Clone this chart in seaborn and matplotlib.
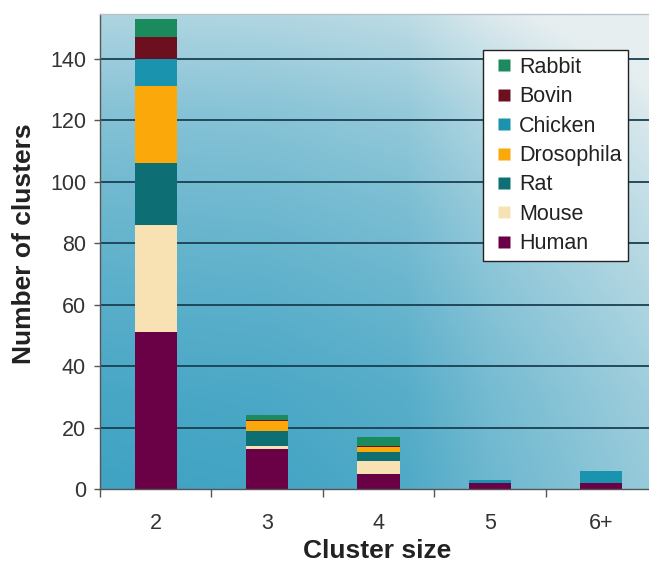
import numpy as np
import matplotlib
matplotlib.use("Agg")
import matplotlib.pyplot as plt
from matplotlib.lines import Line2D
from matplotlib.ticker import FixedLocator, NullFormatter
import seaborn as sns

# Data
categories = ["2", "3", "4", "5", "6+"]
species = ["Human", "Mouse", "Rat", "Drosophila", "Chicken", "Bovin", "Rabbit"]
human = [51, 13, 5, 2, 2]
mouse = [35, 1, 4, 0, 0]
rat = [20, 5, 3, 0, 0]
drosophila = [25, 3, 1.5, 0, 0]
chicken = [9, 0, 0, 1, 4]
bovin = [7, 0.5, 0.5, 0, 0]
rabbit = [6, 1.5, 3, 0, 0]
y_ticks = [0, 20, 40, 60, 80, 100, 120, 140]

colors = {
    "Human": "#6a0045",
    "Mouse": "#f8e2b4",
    "Rat": "#0d6f74",
    "Drosophila": "#fba80a",
    "Chicken": "#1993ae",
    "Bovin": "#6c1020",
    "Rabbit": "#1b8a5c",
}

plt.rcParams["font.family"] = ["Liberation Sans", "DejaVu Sans"]

W, H = 649, 563
fig = plt.figure(figsize=(W / 100, H / 100), dpi=100, facecolor="white")
ax = fig.add_axes([100 / W, 74 / H, 557 / W, 475 / H])

# background gradient (dark teal bottom-left -> light top-right)
nx, ny = 300, 260
u = np.linspace(0, 1, nx)[None, :]
v = np.linspace(1, 0, ny)[:, None]
h = np.interp(u, [0, 0.3, 0.55, 0.7, 1.0], [0, 0.02, 0.09, 0.27, 0.53])
g = np.interp(v, [0, 0.2, 0.45, 0.6, 0.8, 1.0], [0, 0.05, 0.18, 0.27, 0.42, 0.66])
l = np.clip(h + g, 0, 1)[..., None]
dark = np.array([64, 163, 195]) / 255
light = np.array([230, 238, 240]) / 255
bg = dark + l * (light - dark)
ymax = 154.5
ax.imshow(bg, extent=[-0.5, 4.5, 0, ymax], aspect="auto", zorder=0, interpolation="bicubic")

# stacked bars: draw cumulative totals from the top segment down
values = {"Human": human, "Mouse": mouse, "Rat": rat, "Drosophila": drosophila,
          "Chicken": chicken, "Bovin": bovin, "Rabbit": rabbit}
stack = np.cumsum(np.array([values[s] for s in species]), axis=0)
for i in range(len(species) - 1, -1, -1):
    sns.barplot(x=categories, y=stack[i], color=colors[species[i]], saturation=1,
                width=0.38, linewidth=0, errorbar=None, ax=ax, zorder=2)

ax.set_xlim(-0.5, 4.5)
ax.set_ylim(0, ymax)

# grid
for yt in y_ticks[1:]:
    ax.axhline(yt, color="#1a3f52", linewidth=1.3, zorder=1)

# ticks
ax.set_yticks(y_ticks)
ax.tick_params(axis="y", length=4, width=1, color="#555555", pad=6,
               labelsize=15.5, labelcolor="#333333")
ax.xaxis.set_major_locator(FixedLocator([-0.5, 0.5, 1.5, 2.5, 3.5, 4.5]))
ax.xaxis.set_major_formatter(NullFormatter())
ax.xaxis.set_minor_locator(FixedLocator(range(len(categories))))
ax.set_xticklabels(categories, minor=True)
ax.tick_params(axis="x", which="major", length=6, width=1, color="#555555")
ax.tick_params(axis="x", which="minor", length=0, pad=17, labelsize=15.5, labelcolor="#333333")

for side in ["left", "bottom"]:
    ax.spines[side].set_color("#555555")
    ax.spines[side].set_linewidth(1)
ax.spines["top"].set_color("#b8c4ca")
ax.spines["top"].set_linewidth(1)
ax.spines["right"].set_visible(False)

ax.set_xlabel("Cluster size", fontsize=19, fontweight="bold", color="#222222")
ax.set_ylabel("Number of clusters", fontsize=19, fontweight="bold", color="#222222")
ax.xaxis.set_label_coords(0.497, -0.106)
ax.yaxis.set_label_coords(-0.115, 0.516)

# legend
handles = [Line2D([], [], linestyle="none", marker="s", markersize=8,
                  markerfacecolor=colors[s], markeredgecolor="none")
           for s in species[::-1]]
leg = ax.legend(handles, species[::-1], loc="upper left",
                bbox_to_anchor=(483 / W, 1 - 50 / H), bbox_transform=fig.transFigure,
                borderaxespad=0, fontsize=15.5, frameon=True, fancybox=False,
                edgecolor="#222222", facecolor="white", framealpha=1,
                handlelength=1.3, handletextpad=0.05, labelspacing=0.39, borderpad=0.32)
leg.get_frame().set_linewidth(1)
for t in leg.get_texts():
    t.set_color("#222222")

fig.savefig("out.png", dpi=100, facecolor="white")
